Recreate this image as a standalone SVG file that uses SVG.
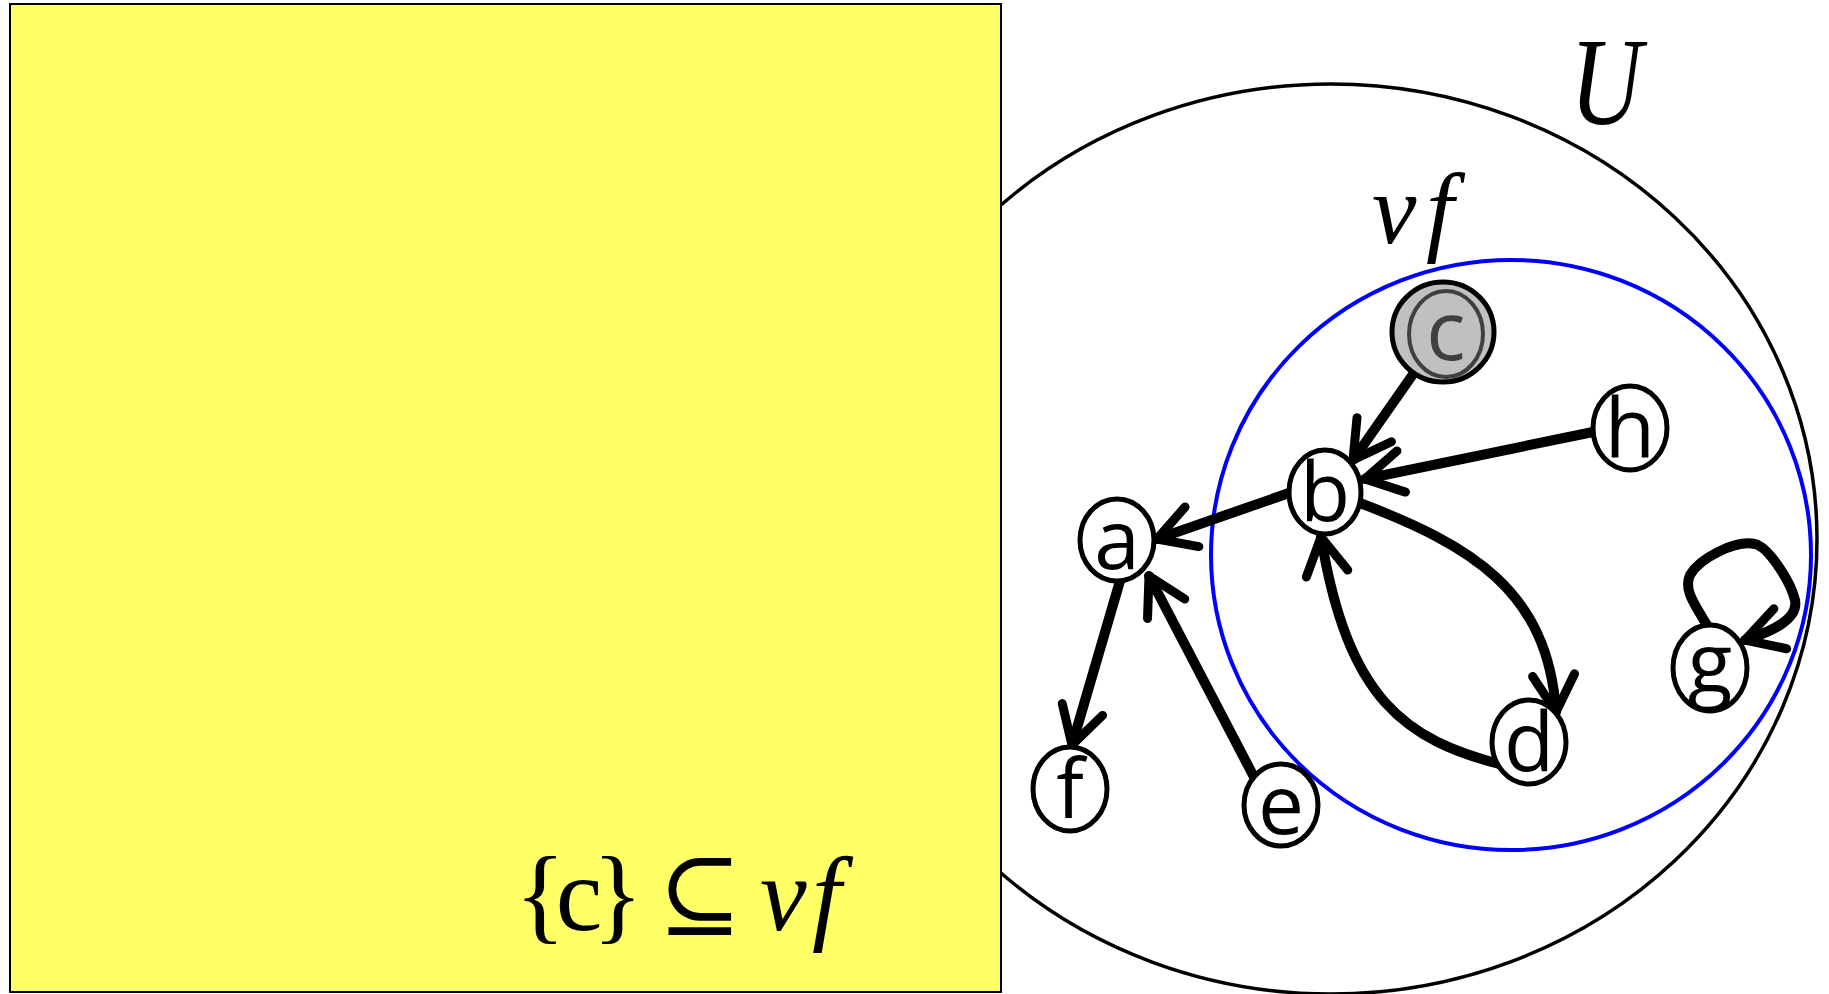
<svg xmlns="http://www.w3.org/2000/svg" width="1829" height="994" viewBox="0 0 1829 994">
<style>
.node{fill:#fff;stroke:#000;stroke-width:5}
.lbl{font-family:"Open Sans","Noto Sans",sans-serif;font-size:82px;text-anchor:middle;fill:#000}
.edge{fill:none;stroke:#000;stroke-width:10;stroke-linecap:round;stroke-linejoin:round}
.math{font-family:"Liberation Serif","DejaVu Serif",serif;font-size:105px;fill:#000}
.it{font-style:italic}
</style>
<defs>
<marker id="arr" markerUnits="userSpaceOnUse" markerWidth="60" markerHeight="60" refX="0" refY="0" orient="auto" overflow="visible">
<path d="M-37,-21 L0,0 L-37,21" fill="none" stroke="#000" stroke-width="9" stroke-linecap="round" stroke-linejoin="round"/>
</marker>
</defs>
<rect width="1829" height="994" fill="#fff"/>
<g id="universe">
<ellipse cx="1331" cy="539" rx="486" ry="455" fill="none" stroke="#000" stroke-width="3.5"/>
</g>
<g id="panel">
<rect x="10" y="4" width="991" height="988" fill="#FFFF66" stroke="#000" stroke-width="2"/>
<text class="math" x="515" y="930" textLength="128" lengthAdjust="spacing">{c}</text>
<text class="math" x="700" y="928" text-anchor="middle" style="font-size:100px">⊆</text>
<text class="math it" x="760" y="930">ν</text>
<text class="math it" x="812" y="930">f</text>
</g>
<g id="nu-set">
<ellipse cx="1511" cy="555" rx="300" ry="295" fill="none" stroke="#0000FF" stroke-width="4"/>
</g>
<text class="math it" x="1570" y="124" textLength="72" lengthAdjust="spacingAndGlyphs" style="font-size:124px">U</text>
<g id="nu-label">
<text class="math it" x="1372" y="243" style="font-size:100px">ν</text>
<text class="math it" x="1426" y="243" style="font-size:100px">f</text>
</g>
<g id="connectors">
<path class="edge" d="M1416,370 L1353,460" marker-end="url(#arr)"/>
<path class="edge" d="M1593,432 L1365,479" marker-end="url(#arr)"/>
<path class="edge" d="M1289,493 L1157,539" marker-end="url(#arr)"/>
<path class="edge" d="M1120,581 L1072,745" marker-end="url(#arr)"/>
<path class="edge" d="M1254,777 L1149,576" marker-end="url(#arr)"/>
<path class="edge" d="M1360,503 C1470,545 1548,590 1556,712" marker-end="url(#arr)"/>
<path class="edge" d="M1503,765 C1405,740 1348,700 1321,537" marker-end="url(#arr)"/>
<path class="edge" d="M1710,630 C1695,605 1683,590 1690,575 C1700,558 1735,540 1755,544 C1768,547 1790,580 1795,600 C1799,620 1770,632 1745,640" marker-end="url(#arr)"/>
</g>
<g id="node-c">
<ellipse cx="1443" cy="332" rx="51" ry="50" fill="#C0C0C0" stroke="#000" stroke-width="5"/>
<ellipse cx="1446" cy="334" rx="37" ry="43" fill="none" stroke="#404040" stroke-width="4"/>
<text class="lbl" x="1446" y="360" style="fill:#404040">c</text>
</g>
<g id="node-h"><ellipse class="node" cx="1630" cy="428" rx="37" ry="42"/><text class="lbl" x="1630" y="457">h</text></g>
<g id="node-b"><ellipse class="node" cx="1325" cy="492" rx="36" ry="42"/><text class="lbl" x="1325" y="521">b</text></g>
<g id="node-a"><ellipse class="node" cx="1117" cy="540" rx="37" ry="41"/><text class="lbl" x="1117" y="569">a</text></g>
<g id="node-f"><ellipse class="node" cx="1070" cy="789" rx="37" ry="42"/><text class="lbl" x="1070" y="818">f</text></g>
<g id="node-e"><ellipse class="node" cx="1281" cy="805" rx="37" ry="41"/><text class="lbl" x="1281" y="834">e</text></g>
<g id="node-d"><ellipse class="node" cx="1529" cy="742" rx="37" ry="42"/><text class="lbl" x="1529" y="771">d</text></g>
<g id="node-g"><ellipse class="node" cx="1710" cy="668" rx="37" ry="43"/><text class="lbl" x="1710" y="692">g</text></g>
</svg>
